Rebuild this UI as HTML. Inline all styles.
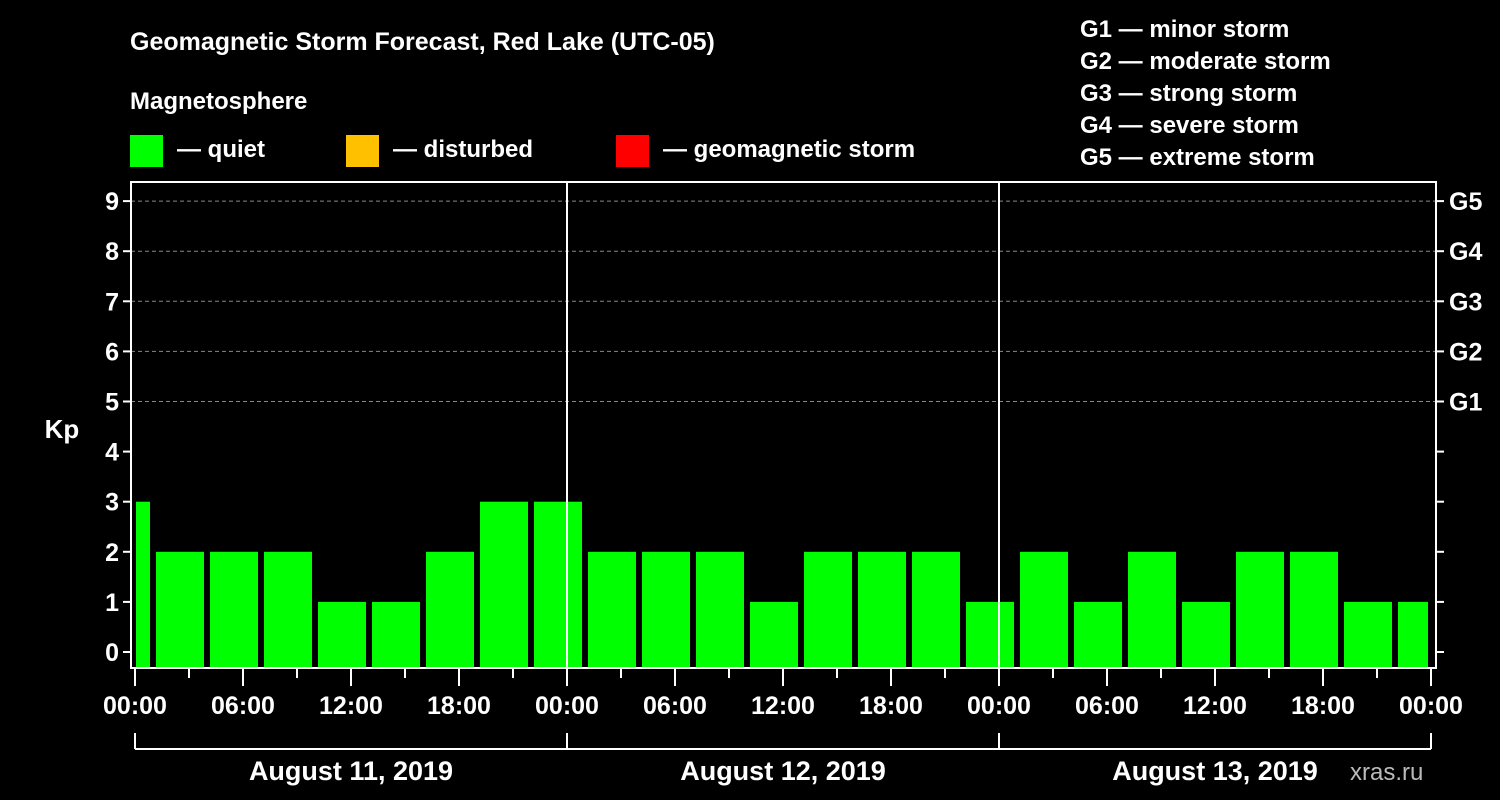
<!DOCTYPE html>
<html><head><meta charset="utf-8"><style>
html,body{margin:0;padding:0;background:#000;}
svg{display:block;font-family:"Liberation Sans",Arial,sans-serif;font-weight:bold;}
</style></head><body>
<svg id="chart" width="1500" height="800" viewBox="0 0 1500 800">
<rect width="1500" height="800" fill="#000"/>
<text x="130" y="50" fill="#fff" font-size="25">Geomagnetic Storm Forecast, Red Lake (UTC-05)</text>
<text x="130" y="109" fill="#fff" font-size="24">Magnetosphere</text>
<g><rect x="130" y="135" width="33" height="32" fill="#00ff00"/><text x="177" y="157" fill="#fff" font-size="24">— quiet</text></g>
<g><rect x="346" y="135" width="33" height="32" fill="#ffc000"/><text x="393" y="157" fill="#fff" font-size="24">— disturbed</text></g>
<g><rect x="616" y="135" width="33" height="32" fill="#ff0000"/><text x="663" y="157" fill="#fff" font-size="24">— geomagnetic storm</text></g>
<g fill="#fff" font-size="24">
<text x="1080" y="37">G1 — minor storm</text>
<text x="1080" y="69">G2 — moderate storm</text>
<text x="1080" y="101">G3 — strong storm</text>
<text x="1080" y="133">G4 — severe storm</text>
<text x="1080" y="165">G5 — extreme storm</text>
</g>
<text x="62" y="438" fill="#fff" font-size="26" text-anchor="middle">Kp</text>
<text x="1350" y="780" fill="#bbb" font-size="24" font-weight="normal">xras.ru</text>
<g id="plot"></g>
</svg>
<script>
const kpValues=[3,2,2,2,1,1,2,3,3,2,2,2,1,2,2,2,1,2,1,2,1,2,2,1,1];
const intervalStarts=[0,1,4,7,10,13,16,19,22,25,28,31,34,37,40,43,46,49,52,55,58,61,64,67,70];
const intervalEnds=[1,4,7,10,13,16,19,22,25,28,31,34,37,40,43,46,49,52,55,58,61,64,67,70,72];
const yTicks=[0,1,2,3,4,5,6,7,8,9];
const gLabels=["G1","G2","G3","G4","G5"];
const gLevels=[5,6,7,8,9];
const xLabels=["00:00","06:00","12:00","18:00","00:00","06:00","12:00","18:00","00:00","06:00","12:00","18:00","00:00"];
const dayLabels=["August 11, 2019","August 12, 2019","August 13, 2019"];

const NS="http://www.w3.org/2000/svg";
const g=document.getElementById('plot');
const X0=135,HPX=18,Y0=652,UPX=50.1,L=131,R=1436,T=182,B=668;
const xs=h=>X0+h*HPX, ys=v=>Y0-v*UPX;
function mk(t,a){const e=document.createElementNS(NS,t);for(const k in a)e.setAttribute(k,a[k]);g.appendChild(e);return e;}
// grid
gLevels.forEach((v,i)=>{
 const l=mk('line',{x1:L,x2:R,y1:ys(v),y2:ys(v),stroke:'#888','stroke-dasharray':'4,3','stroke-width':1});
 
 
});
// bars
kpValues.forEach((v,i)=>{
 let x1=xs(intervalStarts[i])+3,x2=xs(intervalEnds[i])-3;
 if(i===0)x1=xs(intervalStarts[i])+1;
 const r=mk('rect',{x:x1,y:ys(v),width:x2-x1,height:B-1-ys(v),fill:'#00ff00'});
 
 
});
// day separators
[1,2].forEach(d=>{
 const l=mk('line',{x1:xs(d*24),x2:xs(d*24),y1:T,y2:B,stroke:'#fff','stroke-width':2});
 
 
});
// frame
const fr=mk('rect',{x:L,y:T,width:R-L,height:B-T,fill:'none',stroke:'#fff','stroke-width':2});


// y ticks
yTicks.forEach(v=>{
 mk('line',{x1:L-8,x2:L,y1:ys(v),y2:ys(v),stroke:'#fff','stroke-width':2});
 mk('line',{x1:R,x2:R+8,y1:ys(v),y2:ys(v),stroke:'#fff','stroke-width':2});
 const t=mk('text',{x:L-12,y:ys(v)+9,fill:'#fff','font-size':25,'text-anchor':'end'});
 t.textContent=v;
 
 
});
gLabels.forEach((s,i)=>{
 const t=mk('text',{x:R+13,y:ys(gLevels[i])+9,fill:'#fff','font-size':25});
 t.textContent=s;
 
 
});
// x ticks
for(let h=0;h<=72;h+=3){
 const major=h%6===0;
 mk('line',{x1:xs(h),x2:xs(h),y1:B,y2:B+(major?18:10),stroke:'#fff','stroke-width':2});
}
xLabels.forEach((s,i)=>{
 const t=mk('text',{x:xs(i*6),y:714,fill:'#fff','font-size':25,'text-anchor':'middle'});
 t.textContent=s;
 
 
});
// date bracket
mk('line',{x1:xs(0),x2:xs(72),y1:749,y2:749,stroke:'#fff','stroke-width':2});
[0,24,48,72].forEach(h=>mk('line',{x1:xs(h),x2:xs(h),y1:733,y2:749,stroke:'#fff','stroke-width':2}));
dayLabels.forEach((s,i)=>{
 const t=mk('text',{x:xs(i*24+12),y:780,fill:'#fff','font-size':27,'text-anchor':'middle'});
 t.textContent=s;
 
 
});
</script>
</body></html>
